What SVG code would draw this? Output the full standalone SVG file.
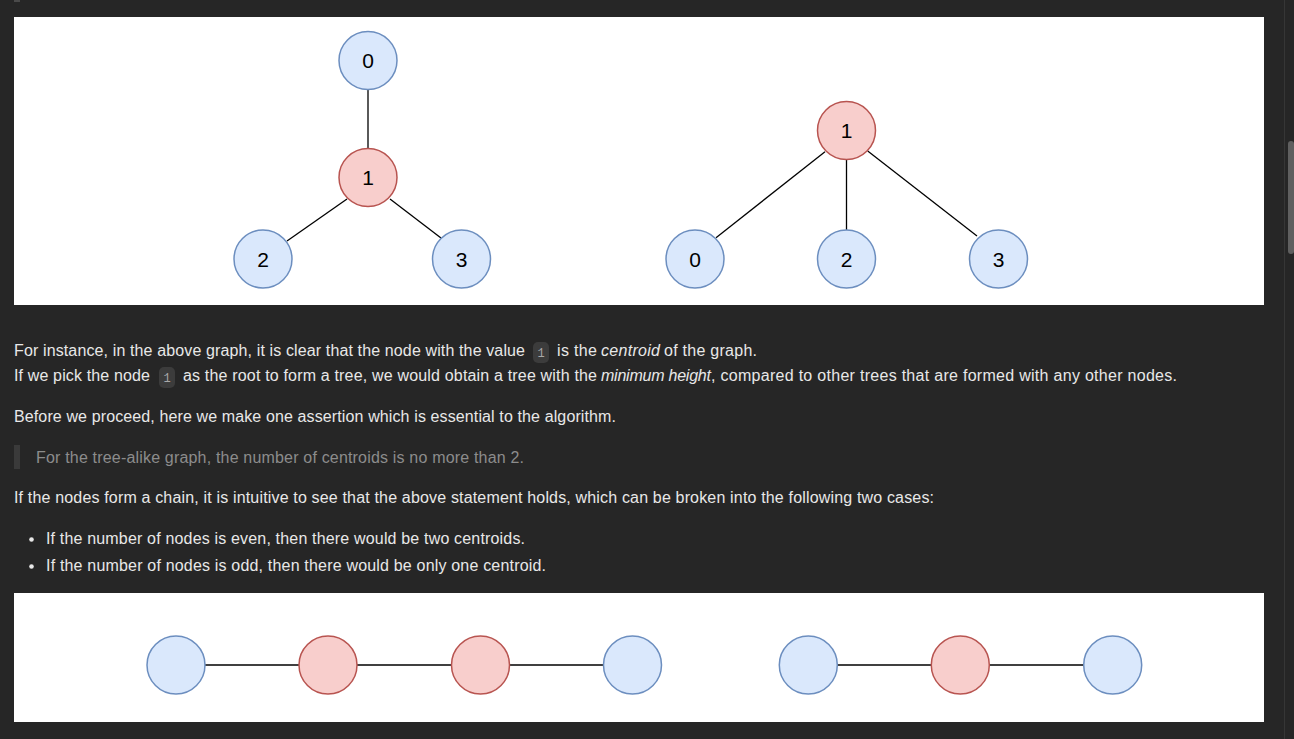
<svg xmlns="http://www.w3.org/2000/svg" width="1294" height="739" viewBox="0 0 1294 739">
<style>
.bg{fill:#262626}
.panel{fill:#ffffff}
.blue{fill:#dae8fc;stroke:#6c8ebf;stroke-width:1.5}
.red{fill:#f8cecc;stroke:#b85450;stroke-width:1.5}
.edge{stroke:#000;stroke-width:1.3;fill:none}
.lbl{font-family:"Liberation Sans",Arial,sans-serif;font-size:21px;fill:#000;text-anchor:middle}
.t{font-family:"Liberation Sans",Arial,sans-serif;font-size:16px;fill:#e8e8e8}
.i{font-style:italic}
.q{fill:#8c8c8c}
.badge{fill:#3c3c3c}
.code{font-family:"Liberation Mono","DejaVu Sans Mono",monospace;font-size:12px;fill:#a8a8a8;text-anchor:middle}
</style>
<rect class="bg" x="0" y="0" width="1294" height="739"/>
<rect x="14" y="0" width="6" height="2" fill="#4a4a4a"/>
<!-- scrollbar -->
<line x1="1284.5" y1="0" x2="1284.5" y2="739" stroke="#363636" stroke-width="1"/>
<rect x="1288" y="141" width="6" height="113" rx="3" fill="#5f5f5f"/>

<!-- top panel -->
<rect class="panel" x="14" y="17" width="1250" height="288"/>
<!-- bottom panel -->
<rect class="panel" x="14" y="593" width="1250" height="129"/>

<g id="connectors">
  <line class="edge" x1="368" y1="89" x2="368" y2="148"/>
  <line class="edge" x1="347" y1="199" x2="287" y2="241"/>
  <line class="edge" x1="390" y1="199" x2="441" y2="238"/>
  <line class="edge" x1="825" y1="151.7" x2="716" y2="237.7"/>
  <line class="edge" x1="846.5" y1="160" x2="846.5" y2="230"/>
  <line class="edge" x1="867.7" y1="151" x2="977" y2="236"/>
  <line class="edge" x1="205" y1="665" x2="299" y2="665"/>
  <line class="edge" x1="357" y1="665" x2="451" y2="665"/>
  <line class="edge" x1="510" y1="665" x2="603" y2="665"/>
  <line class="edge" x1="837" y1="665" x2="931" y2="665"/>
  <line class="edge" x1="989" y1="665" x2="1083" y2="665"/>
</g>

<!-- left tree -->
<g id="a0"><circle class="blue" cx="368" cy="60.5" r="29"/><text class="lbl" x="368" y="68">0</text></g>
<g id="a1"><circle class="red" cx="368" cy="177.5" r="29"/><text class="lbl" x="368" y="185">1</text></g>
<g id="a2"><circle class="blue" cx="263" cy="259" r="29"/><text class="lbl" x="263" y="266.5">2</text></g>
<g id="a3"><circle class="blue" cx="461.5" cy="259" r="29"/><text class="lbl" x="461.5" y="266.5">3</text></g>

<!-- right tree -->
<g id="b1"><circle class="red" cx="846.5" cy="130.5" r="29"/><text class="lbl" x="846.5" y="138">1</text></g>
<g id="b0"><circle class="blue" cx="695" cy="259" r="29"/><text class="lbl" x="695" y="266.5">0</text></g>
<g id="b2"><circle class="blue" cx="846.5" cy="259" r="29"/><text class="lbl" x="846.5" y="266.5">2</text></g>
<g id="b3"><circle class="blue" cx="998.5" cy="259" r="29"/><text class="lbl" x="998.5" y="266.5">3</text></g>

<!-- chains -->
<g id="c0"><circle class="blue" cx="176" cy="665" r="29"/></g>
<g id="c1"><circle class="red" cx="328" cy="665" r="29"/></g>
<g id="c2"><circle class="red" cx="480.5" cy="665" r="29"/></g>
<g id="c3"><circle class="blue" cx="632.5" cy="665" r="29"/></g>
<g id="d0"><circle class="blue" cx="808.3" cy="665" r="29"/></g>
<g id="d1"><circle class="red" cx="960.3" cy="665" r="29"/></g>
<g id="d2"><circle class="blue" cx="1112.7" cy="665" r="29"/></g>

<!-- text -->
<g id="text">
  <text class="t" x="14" y="356" textLength="511">For instance, in the above graph, it is clear that the node with the value</text>
  <rect class="badge" x="533" y="342" width="16" height="21" rx="5"/>
  <text class="code" x="541" y="356.5">1</text>
  <text class="t" x="557" y="356" textLength="40">is the</text>
  <text class="t i" x="601" y="356" textLength="59">centroid</text>
  <text class="t" x="664" y="356" textLength="93">of the graph.</text>

  <text class="t" x="14" y="381" textLength="136">If we pick the node</text>
  <rect class="badge" x="159" y="367" width="16" height="21" rx="5"/>
  <text class="code" x="167" y="381.5">1</text>
  <text class="t" x="183" y="381" textLength="414">as the root to form a tree, we would obtain a tree with the</text>
  <text class="t i" x="601" y="381" textLength="110">minimum height</text>
  <text class="t" x="711" y="381" textLength="466">, compared to other trees that are formed with any other nodes.</text>

  <text class="t" x="14" y="422" textLength="602">Before we proceed, here we make one assertion which is essential to the algorithm.</text>

  <rect x="14" y="445" width="6" height="24" fill="#3a3a3a"/>
  <text class="t q" x="36" y="463" textLength="488">For the tree-alike graph, the number of centroids is no more than 2.</text>

  <text class="t" x="14" y="503" textLength="920">If the nodes form a chain, it is intuitive to see that the above statement holds, which can be broken into the following two cases:</text>

  <circle cx="31.5" cy="539.5" r="2.3" fill="#e8e8e8"/>
  <text class="t" x="46" y="544" textLength="479">If the number of nodes is even, then there would be two centroids.</text>
  <circle cx="31.5" cy="566.5" r="2.3" fill="#e8e8e8"/>
  <text class="t" x="46" y="571" textLength="500">If the number of nodes is odd, then there would be only one centroid.</text>
</g>
</svg>
